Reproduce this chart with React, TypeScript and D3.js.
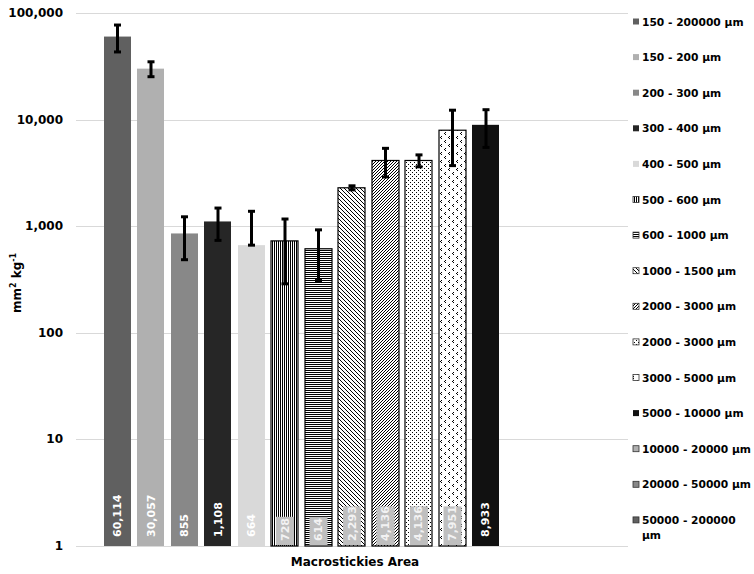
import React from "react";
import * as d3 from "d3";

const seriesNames = [
  "150 - 200000 µm", "150 - 200 µm", "200 - 300 µm", "300 - 400 µm", "400 - 500 µm",
  "500 - 600 µm", "600 - 1000 µm", "1000 - 1500 µm", "2000 - 3000 µm", "2000 - 3000 µm",
  "3000 - 5000 µm", "5000 - 10000 µm", "10000 - 20000 µm", "20000 - 50000 µm", "50000 - 200000 µm",
];
const values = [60114, 30057, 855, 1108, 664, 728, 614, 2293, 4136, 4136, 7951, 8933];
const errPlus = [17000, 4800, 370, 372, 716, 440, 310, 100, 1240, 530, 4300, 3450];
const errMinus = [17000, 4800, 370, 372, 0, 440, 305, 100, 1240, 530, 4250, 3450];
const yTicks = [1, 10, 100, 1000, 10000, 100000];
const categoryLabel = "Macrostickies Area";

const fills = [
  "#606060", "#b0b0b0", "#888888", "#262626", "#d9d9d9",
  "url(#pVert)", "url(#pHoriz)", "url(#pWideDown)", "url(#pDarkUp)", "url(#pDots)",
  "url(#pConfetti)", "#111111", "#b0b0b0", "#888888", "#606060",
];
const patterned = [false, false, false, false, false, true, true, true, true, true, true, false, false, false, false];

function Px({ pts }: { pts: [number, number][] }) {
  return <>{pts.map(([a, b], k) => <rect key={k} x={a} y={b} width={1} height={1} fill="#000" />)}</>;
}

export default function App() {
  const W = 754, H = 574;
  const plotLeft = 76, plotRight = 628, plotTop = 13, plotBottom = 546;
  const y = d3.scaleLog().domain([1, 100000]).range([plotBottom, plotTop]);
  const x = d3.scaleBand<string>()
    .domain(seriesNames.map((_, i) => String(i)))
    .range([104, 600])
    .paddingInner(0.194)
    .paddingOuter(0);
  const bw = x.bandwidth();
  const fmt = d3.format(",");
  const font = "'DejaVu Sans', Verdana, sans-serif";
  const labelSize = 11;

  return (
    <svg width={W} height={H} style={{ position: "absolute", left: 0, top: 0, background: "#fff" }} fontFamily={font}>
      <defs>
        <pattern id="pVert" width="2" height="2" patternUnits="userSpaceOnUse">
          <rect width="2" height="2" fill="#fff" />
          <rect width="1" height="2" fill="#000" />
        </pattern>
        <pattern id="pHoriz" width="2" height="2" patternUnits="userSpaceOnUse">
          <rect width="2" height="2" fill="#fff" />
          <rect width="2" height="1" fill="#000" />
        </pattern>
        <pattern id="pWideDown" width="4" height="4" patternUnits="userSpaceOnUse">
          <rect width="4" height="4" fill="#fff" />
          <Px pts={[[0, 0], [1, 1], [2, 2], [3, 3]]} />
        </pattern>
        <pattern id="pDarkUp" width="3" height="3" patternUnits="userSpaceOnUse">
          <rect width="3" height="3" fill="#fff" />
          <Px pts={[[2, 0], [1, 1], [0, 2]]} />
        </pattern>
        <pattern id="pDots" width="4" height="4" patternUnits="userSpaceOnUse">
          <rect width="4" height="4" fill="#fff" />
          <Px pts={[[0, 0], [2, 2]]} />
        </pattern>
        <pattern id="pConfetti" width="8" height="8" patternUnits="userSpaceOnUse">
          <rect width="8" height="8" fill="#fff" />
          <Px pts={[[1, 0], [0, 1], [1, 2], [5, 4], [4, 5], [5, 6]]} />
        </pattern>
      </defs>

      {/* gridlines */}
      {yTicks.map((t) => (
        <line key={"g" + t} x1={plotLeft} x2={plotRight} y1={Math.round(y(t)) + 0.5} y2={Math.round(y(t)) + 0.5}
          stroke="#d9d9d9" strokeWidth={1} />
      ))}
      {/* y tick labels */}
      {yTicks.map((t) => (
        <text key={"t" + t} x={63} y={y(t)} textAnchor="end" dominantBaseline="central"
          fontSize={12} fontWeight="bold" fill="#000">{fmt(t)}</text>
      ))}

      {/* bars */}
      {values.map((v, i) => {
        const bx = Math.round(x(String(i))!);
        const top = y(v);
        return (
          <rect key={"b" + i} x={bx} y={top} width={Math.round(bw)} height={plotBottom - top}
            fill={fills[i]} stroke={patterned[i] ? "#000" : "none"} strokeWidth={patterned[i] ? 1.2 : 0} />
        );
      })}

      {/* error bars */}
      {values.map((v, i) => {
        const cx = x(String(i))! + bw / 2;
        const yHi = y(v + errPlus[i]);
        const yLo = y(Math.max(v - errMinus[i], 1));
        return (
          <g key={"e" + i} stroke="#000" strokeWidth={3}>
            <line x1={cx} x2={cx} y1={yHi} y2={yLo} />
            <line x1={cx - 3.5} x2={cx + 3.5} y1={yHi} y2={yHi} />
            <line x1={cx - 3.5} x2={cx + 3.5} y1={yLo} y2={yLo} />
          </g>
        );
      })}

      {/* data labels */}
      {values.map((v, i) => {
        const cx = x(String(i))! + bw / 2;
        const label = fmt(v);
        const textLen = label.length * 6.9 - (label.includes(",") ? 3.4 : 0);
        const start = patterned[i] ? 541 : 537;
        return (
          <g key={"l" + i}>
            {patterned[i] && (
              <rect x={cx - 9} y={start - textLen - 3.5} width={18} height={textLen + 7.5} fill="#bfbfbf" />
            )}
            <text transform={`translate(${cx},${start}) rotate(-90)`} textAnchor="start" dominantBaseline="central"
              fontSize={labelSize} fontWeight="bold" fill={patterned[i] ? "#f2f2f2" : "#ffffff"}>{label}</text>
          </g>
        );
      })}

      {/* axis titles */}
      <text x={(plotLeft + plotRight) / 2 + 3} y={562} textAnchor="middle" dominantBaseline="central"
        fontSize={12} fontWeight="bold">{categoryLabel}</text>
      <text transform="translate(17,283) rotate(-90)" textAnchor="middle" dominantBaseline="central"
        fontSize={12} fontWeight="bold">
        mm<tspan fontSize={8} dy={-4}>2</tspan><tspan dy={4}> kg</tspan><tspan fontSize={8} dy={-4}>-1</tspan>
      </text>

      {/* legend */}
      {seriesNames.map((name, i) => {
        const ly = 22 + i * 35.6;
        const wrap = name === "50000 - 200000 µm";
        return (
          <g key={"lg" + i}>
            <rect x={633} y={ly - 3.5} width={6} height={6} fill={fills[i]}
              stroke={patterned[i] || i >= 12 ? "#333" : "none"} strokeWidth={0.8} />
            <text x={642} y={ly} dominantBaseline="central" fontSize={10.7} fontWeight="bold" fill="#000">
              {wrap ? (
                <>
                  <tspan x={642}>50000 - 200000</tspan>
                  <tspan x={642} dy={15}>µm</tspan>
                </>
              ) : name}
            </text>
          </g>
        );
      })}
    </svg>
  );
}
